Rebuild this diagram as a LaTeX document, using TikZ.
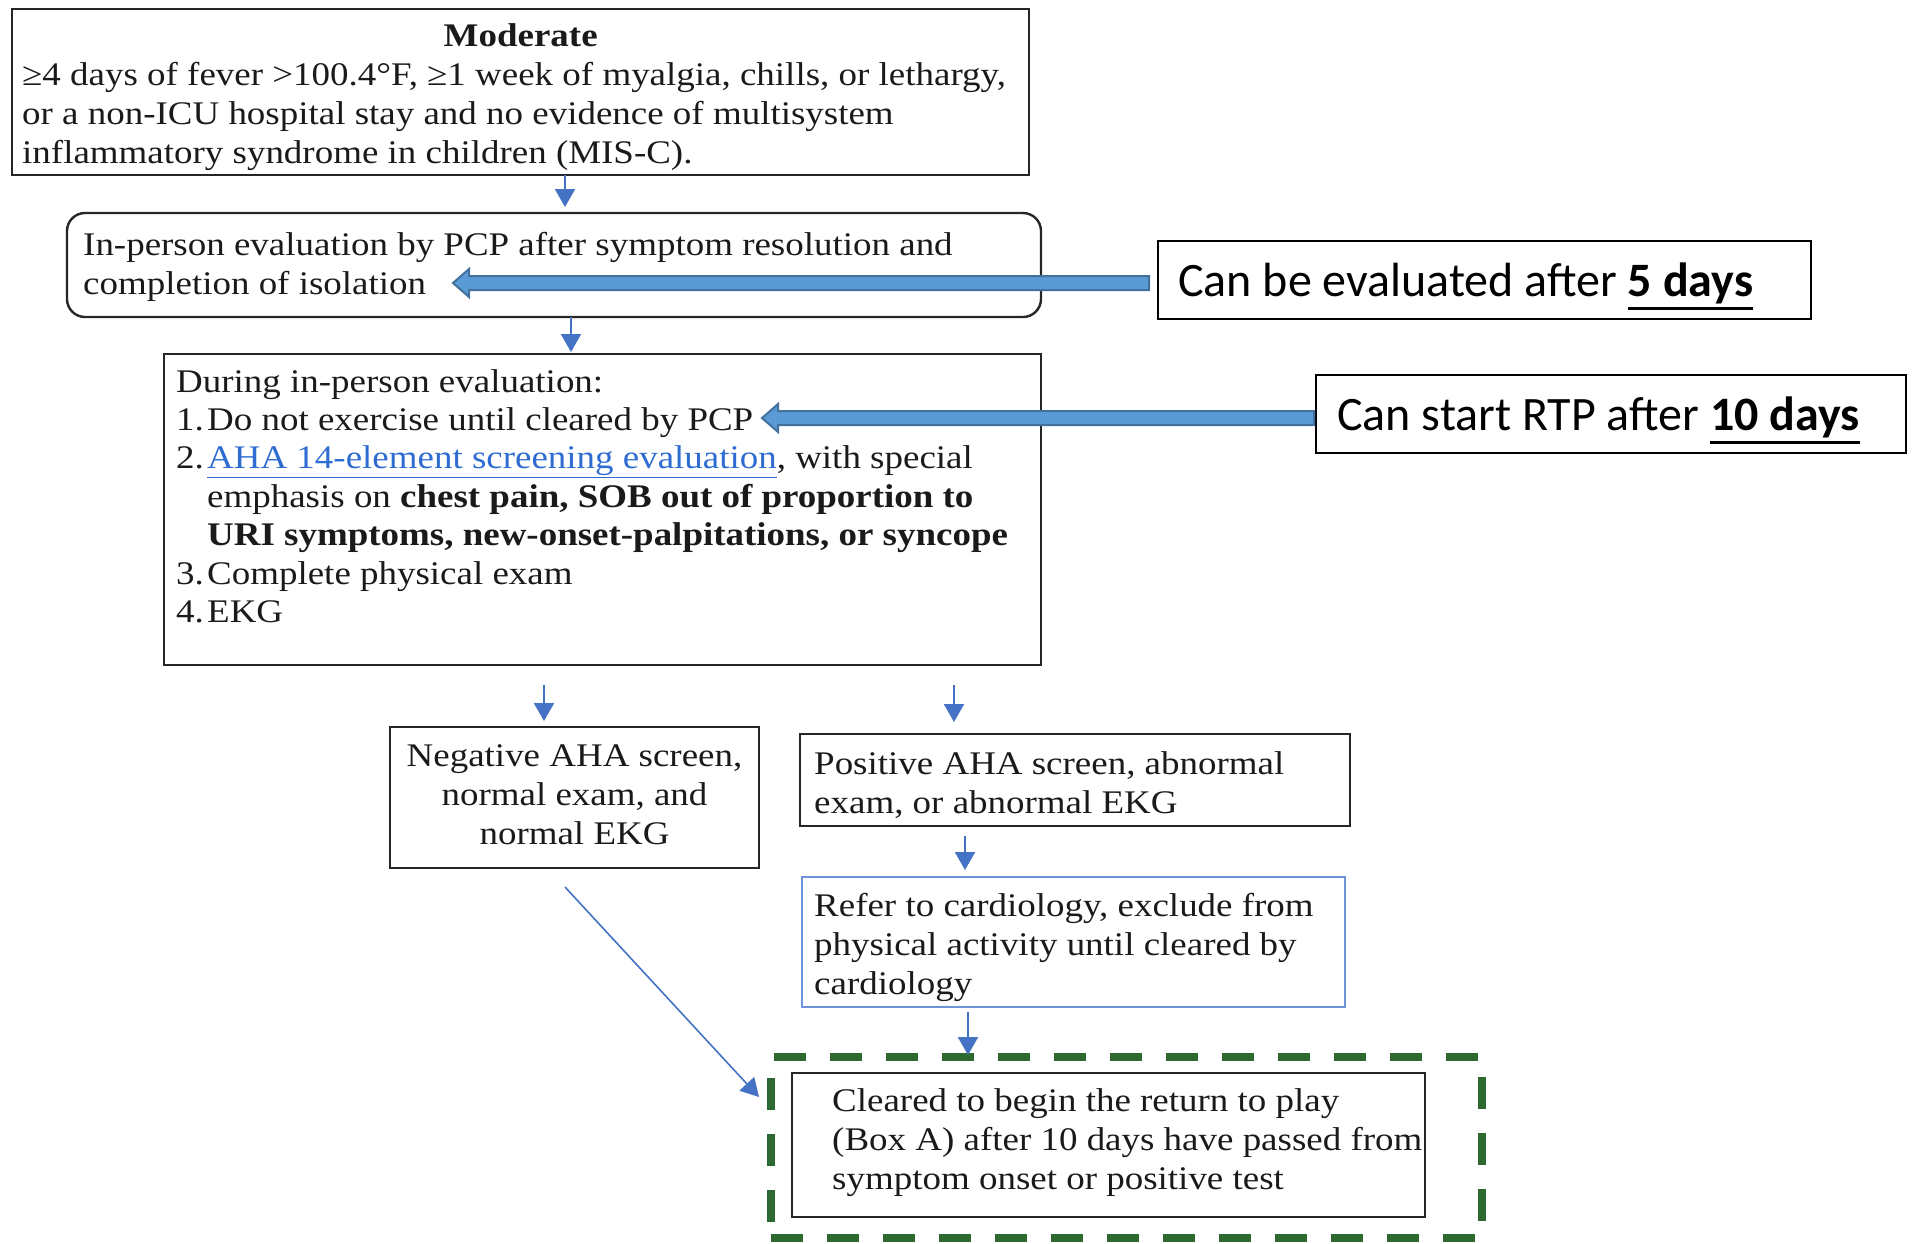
\documentclass[tikz,border=0pt]{standalone}
\usepackage{fontspec}
\setmainfont{Liberation Serif}[FakeStretch=1.12]
\newfontfamily\calfont{Carlito}
\usetikzlibrary{arrows.meta,calc}
\definecolor{boxline}{HTML}{262626}
\definecolor{arrowblue}{HTML}{4472C4}
\definecolor{linkblue}{HTML}{2E6CD1}
\definecolor{referblue}{HTML}{6F93DA}
\definecolor{dashgreen}{HTML}{2D6A32}
\definecolor{bafill}{HTML}{5B9BD5}
\definecolor{baline}{HTML}{41719C}
\definecolor{txt}{HTML}{1A1A1A}
\newcommand{\flowfont}{\fontsize{33}{39}\selectfont}
\newcommand{\durfont}{\fontsize{33}{38.4}\selectfont}
\newcommand{\callfont}{\calfont\fontsize{48}{56}\selectfont}
\newcommand{\numbox}[1]{\makebox[31pt][l]{#1}}
\newsavebox{\thulbox}
\newcommand{\thul}[1]{\sbox{\thulbox}{#1}\rlap{\rule[-13.5pt]{\wd\thulbox}{3pt}}\usebox{\thulbox}}
\begin{document}
\begin{tikzpicture}[x=1pt,y=-1pt,
  box/.style={draw=boxline,line width=2.4pt,inner sep=0pt,outer sep=0pt},
  rbox/.style={box,rounded corners=18pt},
  bluebox/.style={draw=referblue,line width=2.4pt,inner sep=0pt,outer sep=0pt},
  greenbox/.style={draw=dashgreen,line width=8pt,dash pattern=on 32pt off 24pt,inner sep=0pt,outer sep=0pt},
  callbox/.style={draw=black,line width=2pt,inner sep=0pt,outer sep=0pt},
  txtnode/.style={anchor=base west,inner sep=0pt,align=left,font=\flowfont,text=txt},
  calltxt/.style={anchor=base west,inner sep=0pt,font=\callfont,text=black},
  tarrow/.style={draw=arrowblue,line width=2pt,-{Triangle[length=18pt,width=20pt]}},
  barrow/.style={fill=bafill,draw=baline,line width=2pt,line join=miter},
]
\useasboundingbox (0,0) rectangle (1916,1243);

% boxes
\node[box,minimum width=1017pt,minimum height=166pt] (mod) at (520.5,92) {};
\node[rbox,minimum width=974pt,minimum height=104pt] (inp) at (554,265) {};
\node[box,minimum width=877pt,minimum height=311pt] (dur) at (602.5,509.5) {};
\node[box,minimum width=369pt,minimum height=141pt] (neg) at (574.5,797.5) {};
\node[box,minimum width=550pt,minimum height=92pt] (pos) at (1075,780) {};
\node[bluebox,minimum width=543pt,minimum height=130pt] (ref) at (1073.5,942) {};
\node[greenbox,minimum width=711pt,minimum height=181pt] (grn) at (1126.5,1147.5) {};
\node[box,minimum width=633pt,minimum height=144pt] (clr) at (1108.5,1145) {};
\node[callbox,minimum width=653pt,minimum height=78pt] (c1) at (1484.5,280) {};
\node[callbox,minimum width=590pt,minimum height=78pt] (c2) at (1611,414) {};

% texts (anchor = baseline of the last line)
\node[txtnode] (modt) at (22,163) {\makebox[997pt]{\textbf{Moderate}}\\
≥4 days of fever >100.4°F, ≥1 week of myalgia, chills, or lethargy,\\
or a non-ICU hospital stay and no evidence of multisystem\\
inflammatory syndrome in children (MIS-C).};
\node[txtnode] (inpt) at (83,294) {In-person evaluation by PCP after symptom resolution and\\
completion of isolation};
\node[txtnode,font=\durfont] (durt) at (176,622.5) {During in-person evaluation:\\
\numbox{1.}Do not exercise until cleared by PCP\\
\numbox{2.}\textcolor{linkblue}{\underline{AHA 14-element screening evaluation}}, with special\\
\hspace*{31pt}emphasis on \textbf{chest pain, SOB out of proportion to}\\
\hspace*{31pt}\textbf{URI symptoms, new-onset-palpitations, or syncope}\\
\numbox{3.}Complete physical exam\\
\numbox{4.}EKG};
\node[txtnode,anchor=base,align=center] (negt) at (574.5,844) {Negative AHA screen,\\
normal exam, and\\
normal EKG};
\node[txtnode] (post) at (814,813) {Positive AHA screen, abnormal\\
exam, or abnormal EKG};
\node[txtnode] (reft) at (814,994) {Refer to cardiology, exclude from\\
physical activity until cleared by\\
cardiology};
\node[txtnode] (clrt) at (832,1189) {Cleared to begin the return to play\\
(Box A) after 10 days have passed from\\
symptom onset or positive test};
\node[calltxt] (c1t) at (1178,296) {Can be evaluated after \thul{\textbf{5 days}}};
\node[calltxt] (c2t) at (1337,430) {Can start RTP after \thul{\textbf{10 days}}};

% thin arrows
\draw[tarrow] ([xshift=44.5pt]mod.south) -- ([xshift=11pt,yshift=6pt]inp.north);
\draw[tarrow] ([xshift=17pt]inp.south) -- ([xshift=-31.5pt,yshift=2pt]dur.north);
\draw[tarrow] ([xshift=-58.5pt,yshift=-20pt]dur.south) -- ([xshift=-30.5pt,yshift=6pt]neg.north);
\draw[tarrow] ([xshift=351.5pt,yshift=-20pt]dur.south) -- ([xshift=-121pt,yshift=12pt]pos.north);
\draw[tarrow] ([xshift=-110pt,yshift=-10pt]pos.south) -- ([xshift=-108.5pt,yshift=7pt]ref.north);
\draw[tarrow] ([xshift=-105.5pt,yshift=-5pt]ref.south) -- ([xshift=-158.5pt,yshift=2pt]grn.north);
\draw[tarrow,line width=1.6pt] ([xshift=-9.5pt,yshift=-19pt]neg.south) -- ([xshift=-12pt,yshift=50.5pt]grn.west);

% block arrows
\coordinate (t1) at (453,283);
\coordinate (t2) at (762,418);
\draw[barrow] let \p1=(t1), \p2=([xshift=-9pt]c1.west) in
  (\x1,\y1) -- (\x1+16pt,\y1+14pt) -- (\x1+16pt,\y1+7pt) -- (\x2,\y1+7pt)
  -- (\x2,\y1-7pt) -- (\x1+16pt,\y1-7pt) -- (\x1+16pt,\y1-14pt) -- cycle;
\draw[barrow] let \p1=(t2), \p2=([xshift=-2pt]c2.west) in
  (\x1,\y1) -- (\x1+16pt,\y1+14pt) -- (\x1+16pt,\y1+7pt) -- (\x2,\y1+7pt)
  -- (\x2,\y1-7pt) -- (\x1+16pt,\y1-7pt) -- (\x1+16pt,\y1-14pt) -- cycle;
\end{tikzpicture}
\end{document}
